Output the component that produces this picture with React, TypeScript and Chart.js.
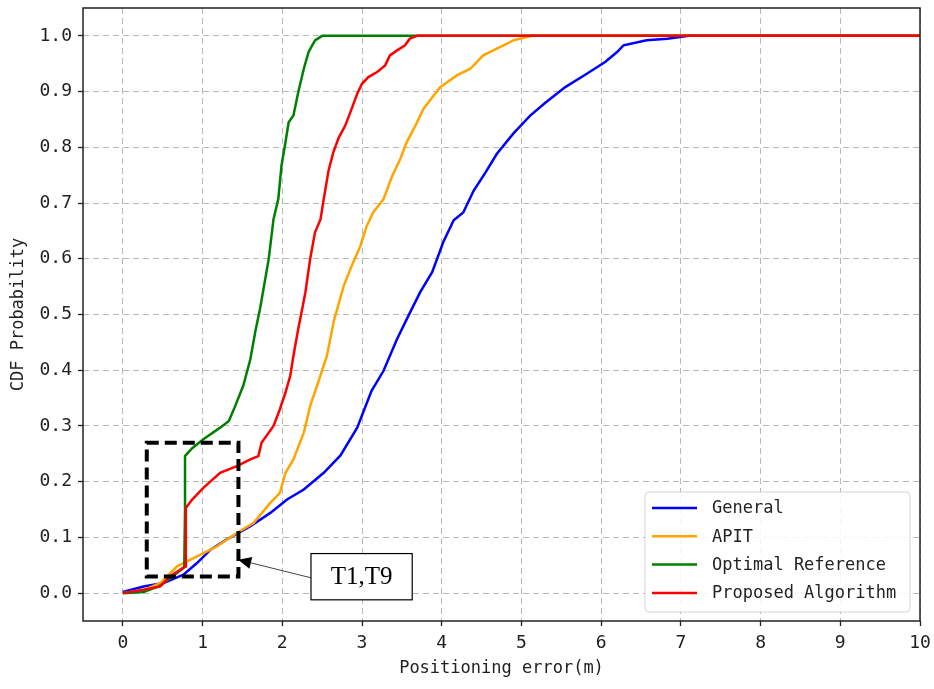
import React, { useEffect, useRef } from "react";
import { Chart, registerables } from "chart.js";

Chart.register(...registerables);

const xTicks = [0, 1, 2, 3, 4, 5, 6, 7, 8, 9, 10];
const yTicks = [0, 0.1, 0.2, 0.3, 0.4, 0.5, 0.6, 0.7, 0.8, 0.9, 1.0];

const seriesNames = ["General", "APIT", "Optimal Reference", "Proposed Algorithm"];
const seriesColors = ["#0000ff", "#ffa500", "#008000", "#ff0000"];

const generalX = [0, 0.26, 0.51, 0.76, 0.93, 1.10, 1.30, 1.60, 1.85, 2.06, 2.27, 2.52, 2.73, 2.94, 3.12, 3.27, 3.44, 3.58, 3.73, 3.88, 4.02, 4.15, 4.27, 4.40, 4.55, 4.69, 4.90, 5.11, 5.30, 5.55, 5.82, 6.05, 6.20, 6.28, 6.57, 6.83, 7.10, 10];
const generalY = [0.002, 0.012, 0.018, 0.033, 0.054, 0.078, 0.096, 0.12, 0.144, 0.168, 0.186, 0.216, 0.247, 0.297, 0.363, 0.399, 0.456, 0.497, 0.54, 0.576, 0.63, 0.669, 0.683, 0.722, 0.755, 0.788, 0.825, 0.857, 0.88, 0.908, 0.932, 0.953, 0.971, 0.983, 0.992, 0.995, 1.0, 1.0];

const apitX = [0, 0.26, 0.47, 0.68, 0.93, 1.18, 1.43, 1.64, 1.85, 1.97, 2.04, 2.14, 2.27, 2.35, 2.45, 2.56, 2.65, 2.77, 2.87, 2.98, 3.06, 3.14, 3.27, 3.38, 3.48, 3.56, 3.67, 3.77, 3.90, 3.98, 4.19, 4.36, 4.52, 4.73, 4.90, 5.13, 10];
const apitY = [0, 0.006, 0.018, 0.048, 0.066, 0.084, 0.108, 0.126, 0.162, 0.18, 0.216, 0.24, 0.288, 0.336, 0.378, 0.426, 0.49, 0.551, 0.587, 0.623, 0.659, 0.683, 0.707, 0.749, 0.779, 0.809, 0.839, 0.869, 0.893, 0.908, 0.929, 0.941, 0.965, 0.98, 0.992, 1.0, 1.0];

const optimalX = [0, 0.26, 0.45, 0.55, 0.68, 0.77, 0.78, 0.78, 0.87, 1.01, 1.22, 1.33, 1.41, 1.51, 1.60, 1.66, 1.72, 1.76, 1.83, 1.89, 1.95, 1.99, 2.04, 2.08, 2.14, 2.20, 2.27, 2.33, 2.41, 2.50, 10];
const optimalY = [0, 0.002, 0.012, 0.022, 0.036, 0.046, 0.15, 0.246, 0.26, 0.276, 0.297, 0.309, 0.336, 0.372, 0.42, 0.468, 0.51, 0.542, 0.60, 0.671, 0.707, 0.767, 0.809, 0.845, 0.857, 0.899, 0.941, 0.971, 0.992, 1.0, 1.0];

const proposedX = [0, 0.26, 0.47, 0.59, 0.78, 0.79, 0.87, 1.01, 1.22, 1.43, 1.60, 1.70, 1.74, 1.89, 1.97, 2.04, 2.10, 2.14, 2.20, 2.25, 2.29, 2.35, 2.41, 2.48, 2.52, 2.58, 2.64, 2.71, 2.79, 2.87, 2.94, 3.00, 3.08, 3.19, 3.29, 3.35, 3.44, 3.54, 3.60, 3.69, 10];
const proposedY = [0, 0.006, 0.012, 0.03, 0.048, 0.153, 0.168, 0.189, 0.216, 0.228, 0.240, 0.246, 0.27, 0.30, 0.33, 0.36, 0.39, 0.426, 0.474, 0.51, 0.54, 0.60, 0.647, 0.671, 0.707, 0.758, 0.791, 0.818, 0.839, 0.869, 0.896, 0.914, 0.926, 0.935, 0.947, 0.965, 0.974, 0.983, 0.995, 1.0, 1.0];

// annotation (data coordinates)
const zoomBoxX = [0.3, 1.45];
const zoomBoxY = [0.03, 0.27];
const labelBoxX = [2.36, 3.63];
const labelBoxY = [-0.012, 0.071];
const arrowTip = [1.447, 0.06];
const arrowStart = [2.36, 0.0275];
const labelText = "T1,T9";

const MONO = "'DejaVu Sans Mono', monospace";

function pairs(xs: number[], ys: number[]) {
  return xs.map((x, i) => ({ x, y: ys[i] }));
}

export default function App() {
  const ref = useRef<HTMLCanvasElement>(null);
  useEffect(() => {
    const overlay = {
      id: "overlay",
      afterDraw(chart: any) {
        const ctx = chart.ctx as CanvasRenderingContext2D;
        const xs = chart.scales.x;
        const ys = chart.scales.y;
        const a = chart.chartArea;
        ctx.save();
        // frame
        ctx.strokeStyle = "#222";
        ctx.lineWidth = 1.5;
        ctx.setLineDash([]);
        ctx.strokeRect(a.left, a.top, a.right - a.left, a.bottom - a.top);

        // dashed zoom rectangle
        const rx1 = xs.getPixelForValue(zoomBoxX[0]);
        const rx2 = xs.getPixelForValue(zoomBoxX[1]);
        const ry1 = ys.getPixelForValue(zoomBoxY[1]);
        const ry2 = ys.getPixelForValue(zoomBoxY[0]);
        ctx.strokeStyle = "#000";
        ctx.lineWidth = 4;
        ctx.setLineDash([12, 6]);
        ctx.strokeRect(rx1, ry1, rx2 - rx1, ry2 - ry1);
        ctx.setLineDash([]);

        // arrow
        const ax1 = xs.getPixelForValue(arrowStart[0]);
        const ay1 = ys.getPixelForValue(arrowStart[1]);
        const ax2 = xs.getPixelForValue(arrowTip[0]);
        const ay2 = ys.getPixelForValue(arrowTip[1]);
        const ang = Math.atan2(ay2 - ay1, ax2 - ax1);
        const hl = 13;
        const hw = 6;
        const bx = ax2 - hl * Math.cos(ang);
        const by = ay2 - hl * Math.sin(ang);
        ctx.strokeStyle = "#444";
        ctx.lineWidth = 1;
        ctx.beginPath();
        ctx.moveTo(ax1, ay1);
        ctx.lineTo(bx, by);
        ctx.stroke();
        ctx.fillStyle = "#000";
        ctx.beginPath();
        ctx.moveTo(ax2, ay2);
        ctx.lineTo(bx + hw * Math.sin(ang), by - hw * Math.cos(ang));
        ctx.lineTo(bx - hw * Math.sin(ang), by + hw * Math.cos(ang));
        ctx.closePath();
        ctx.fill();

        // label box
        const lx1 = xs.getPixelForValue(labelBoxX[0]);
        const lx2 = xs.getPixelForValue(labelBoxX[1]);
        const ly1 = ys.getPixelForValue(labelBoxY[1]);
        const ly2 = ys.getPixelForValue(labelBoxY[0]);
        ctx.fillStyle = "#fff";
        ctx.fillRect(lx1, ly1, lx2 - lx1, ly2 - ly1);
        ctx.strokeStyle = "#000";
        ctx.lineWidth = 1.2;
        ctx.strokeRect(lx1, ly1, lx2 - lx1, ly2 - ly1);
        ctx.fillStyle = "#000";
        ctx.font = "25px 'Liberation Serif', serif";
        ctx.textAlign = "center";
        ctx.textBaseline = "middle";
        ctx.fillText(labelText, (lx1 + lx2) / 2, (ly1 + ly2) / 2 + 1);

        // legend
        const lgRight = a.right - 10;
        const lgBottom = a.bottom - 9;
        const lgW = 265;
        const lgH = 120;
        const lgLeft = lgRight - lgW;
        const lgTop = lgBottom - lgH;
        ctx.fillStyle = "rgba(255,255,255,0.85)";
        ctx.strokeStyle = "#d4d4d4";
        ctx.lineWidth = 1;
        ctx.beginPath();
        (ctx as any).roundRect(lgLeft, lgTop, lgW, lgH, 4);
        ctx.fill();
        ctx.stroke();
        ctx.font = `17px ${MONO}`;
        ctx.textAlign = "left";
        ctx.textBaseline = "middle";
        chart.data.datasets.forEach((ds: any, i: number) => {
          const cy = lgTop + 16 + i * 28.3;
          ctx.strokeStyle = ds.borderColor;
          ctx.lineWidth = 2.5;
          ctx.beginPath();
          ctx.moveTo(lgLeft + 7, cy);
          ctx.lineTo(lgLeft + 52, cy);
          ctx.stroke();
          ctx.fillStyle = "#222";
          ctx.fillText(ds.label, lgLeft + 67, cy + 1);
        });
        ctx.restore();
      },
    };

    const xsArr = [generalX, apitX, optimalX, proposedX];
    const ysArr = [generalY, apitY, optimalY, proposedY];

    const chart = new Chart(ref.current as HTMLCanvasElement, {
      type: "scatter",
      data: {
        datasets: seriesNames.map((name, i) => ({
          label: name,
          data: pairs(xsArr[i], ysArr[i]),
          showLine: true,
          borderColor: seriesColors[i],
          backgroundColor: seriesColors[i],
          borderWidth: 2.5,
          pointRadius: 0,
          tension: 0,
          order: seriesNames.length - i,
        })),
      },
      options: {
        responsive: false,
        animation: false,
        layout: { padding: { left: 0, right: 14, top: 8, bottom: 0 } },
        plugins: { legend: { display: false }, tooltip: { enabled: false } },
        scales: {
          x: {
            type: "linear",
            min: -0.5,
            max: 10,
            afterBuildTicks: (s: any) => {
              s.ticks = xTicks.map((v) => ({ value: v }));
            },
            afterFit: (s: any) => {
              s.height = 68;
              s.paddingLeft = 0;
              s.paddingRight = 0;
            },
            grid: {
              color: "#b8b8b8",
              lineWidth: 1,
              drawTicks: true,
              tickLength: 5,
              tickColor: "#222",
              tickWidth: 1.3,
              tickBorderDash: [],
            },
            border: { display: false, dash: [6, 4] },
            ticks: {
              font: { family: MONO, size: 18 },
              color: "#222",
              padding: 7,
              maxRotation: 0,
              callback: (v: any) => String(v),
            },
            title: {
              display: true,
              text: "Positioning error(m)",
              font: { family: MONO, size: 17 },
              color: "#222",
              padding: { top: 0, bottom: 10 },
            },
          },
          y: {
            type: "linear",
            min: -0.05,
            max: 1.05,
            afterBuildTicks: (s: any) => {
              s.ticks = yTicks.map((v) => ({ value: v }));
            },
            afterFit: (s: any) => {
              s.width = 83;
              s.paddingTop = 0;
              s.paddingBottom = 0;
            },
            grid: {
              color: "#b8b8b8",
              lineWidth: 1,
              drawTicks: true,
              tickLength: 5,
              tickColor: "#222",
              tickWidth: 1.3,
              tickBorderDash: [],
            },
            border: { display: false, dash: [6, 4] },
            ticks: {
              font: { family: MONO, size: 18 },
              color: "#222",
              padding: 6,
              callback: (v: any) => Number(v).toFixed(1),
            },
            title: {
              display: true,
              text: "CDF Probability",
              font: { family: MONO, size: 17 },
              color: "#222",
              padding: { top: 8, bottom: 0 },
            },
          },
        },
      },
      plugins: [overlay],
    } as any);
    return () => chart.destroy();
  }, []);

  return (
    <div style={{ position: "absolute", left: 0, top: 0, width: 934, height: 689, background: "#fff" }}>
      <canvas ref={ref} width={934} height={689} style={{ display: "block" }} />
    </div>
  );
}
